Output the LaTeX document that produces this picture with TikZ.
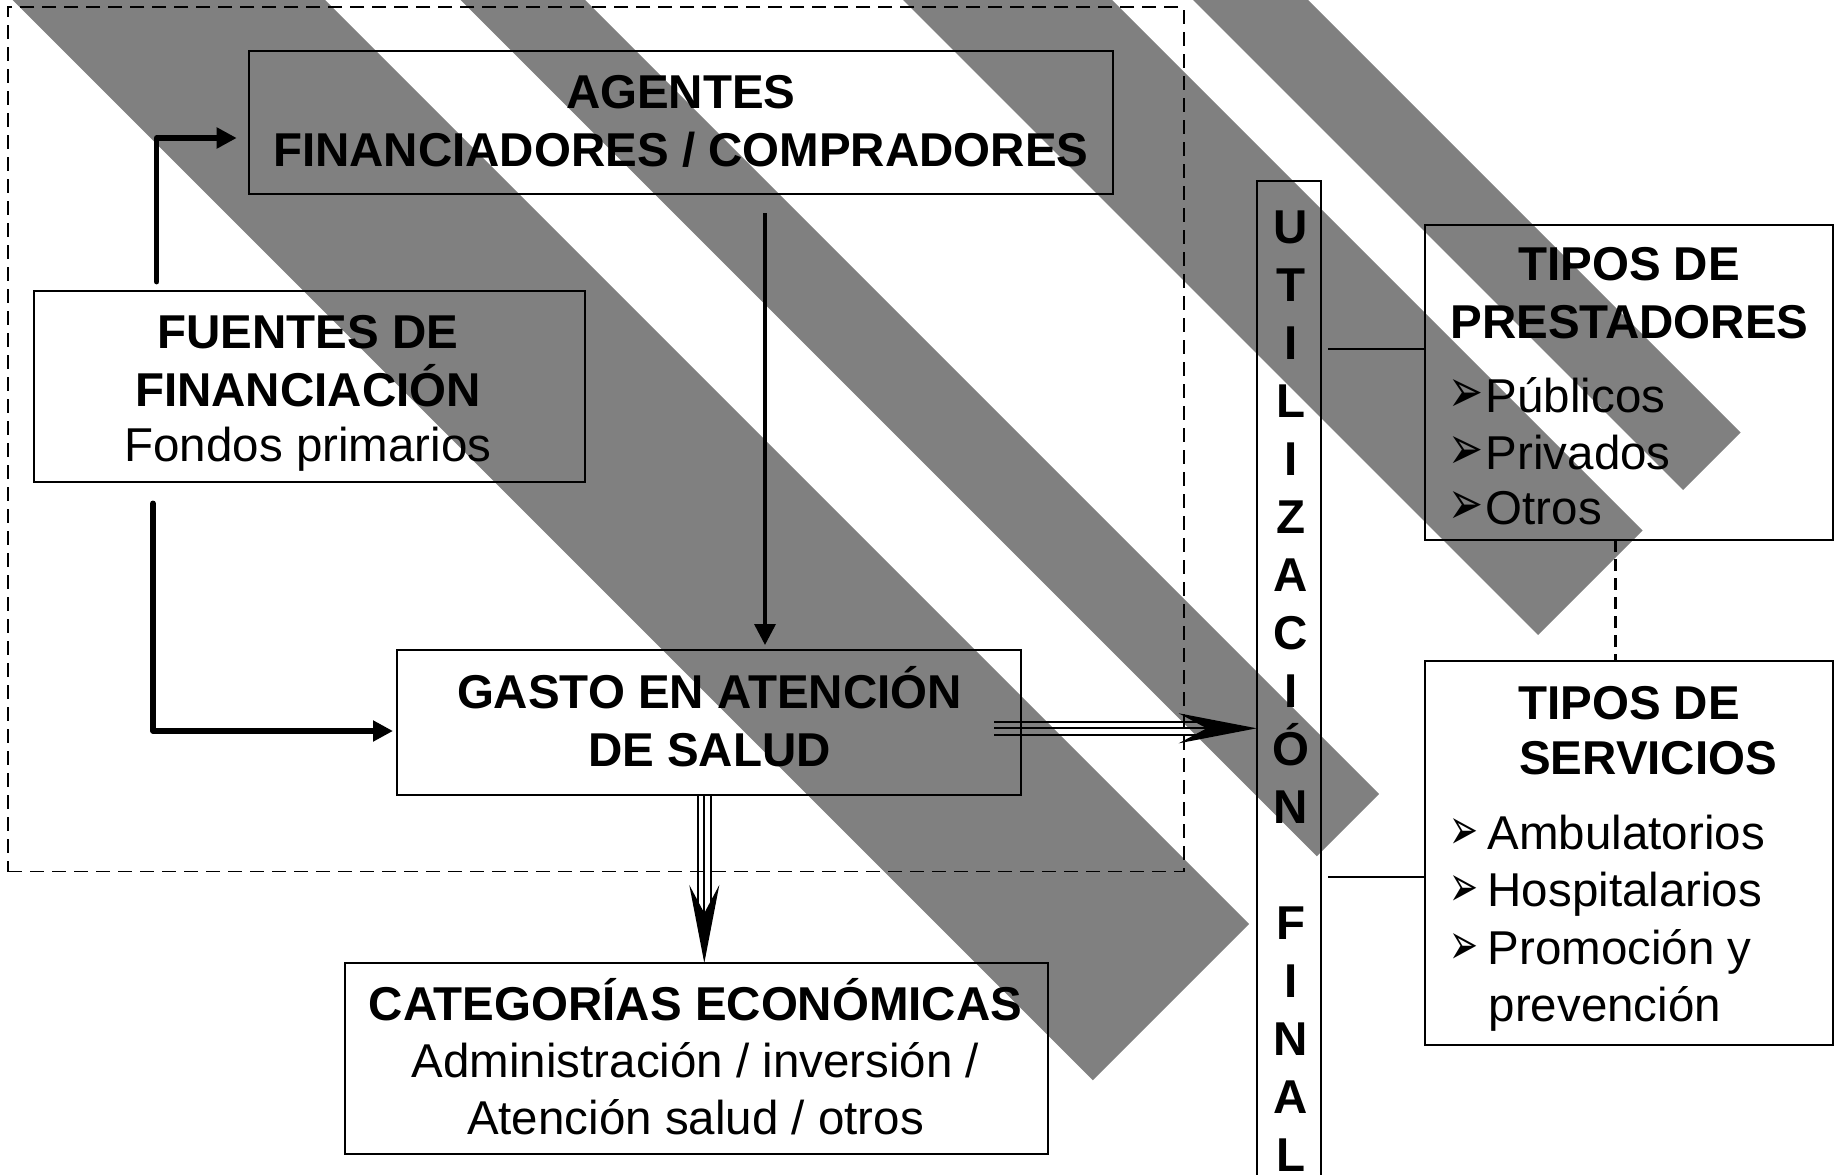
\documentclass[tikz,border=0pt]{standalone}
\usepackage{fontspec}
\setmainfont{Liberation Sans}
\newfontfamily\dvfont{DejaVu Sans}
\usetikzlibrary{arrows.meta}
\definecolor{stripegray}{HTML}{808080}
\newcommand\bulA{\makebox[37.1pt][l]{\resizebox{35pt}{33pt}{\dvfont ➢}}}
\newcommand\bulB{\makebox[38pt][l]{\resizebox{29pt}{31pt}{\dvfont ➢}}}
\begin{document}
\begin{tikzpicture}[x=1pt,y=-1pt,
  box/.style={draw, line width=2pt, rectangle, inner sep=0pt, outer sep=0pt},
  frame/.style={draw, line width=1.8pt, dash pattern=on 14pt off 8pt, rectangle, inner sep=0pt, outer sep=0pt},
  hd/.style={font=\fontsize{47.5pt}{58pt}\selectfont\bfseries, inner sep=0pt, anchor=base},
  tx/.style={font=\fontsize{47.5pt}{58pt}\selectfont, inner sep=0pt, anchor=base},
  li/.style={tx, anchor=base west},
  thickarrow/.style={line width=5.5pt, line cap=round, line join=round, -{Triangle[length=20pt,width=20pt]}},
  thinarrow/.style={line width=3.5pt, -{Triangle[length=21pt,width=21pt]}},
  rail/.style={line width=2pt},
  railtip/.style={line width=2pt, -{Stealth[length=78pt,width=30pt,inset=28pt]}},
  link/.style={line width=2pt},
  dashlink/.style={line width=2.4pt, dash pattern=on 12pt off 7pt}
]
\useasboundingbox (0,0) rectangle (1839,1175);
\clip (0,0) rectangle (1839,1175);
\fill[white] (0,0) rectangle (1839,1175);
% diagonal stripes
\fill[stripegray] (-37.5,-50) -- (275,-50) -- (1249,924) -- (1092.75,1080.25) -- cycle;
\fill[stripegray] (410.5,-50) -- (535,-50) -- (1379,794) -- (1316.75,856.25) -- cycle;
\fill[stripegray] (853,-50) -- (1062,-50) -- (1642.5,530.5) -- (1538,635) -- cycle;
\fill[stripegray] (1143,-50) -- (1258,-50) -- (1740.5,432.5) -- (1683,490) -- cycle;
% dashed frame
\node[frame, minimum width=1176pt, minimum height=864.2pt] (frame) at (596,439.4) {};
% boxes
\node[box, minimum width=864.4pt, minimum height=143.6pt] (agentes) at (680.8,122.5) {};
\node[box, minimum width=551.3pt, minimum height=191.3pt] (fuentes) at (309.15,386.65) {};
\node[box, minimum width=623.7pt, minimum height=144.5pt] (gasto) at (708.85,722.45) {};
\node[box, minimum width=703pt, minimum height=191.3pt] (cat) at (696.5,1058.65) {};
\node[box, minimum width=63.8pt, minimum height=1019.3pt] (util) at (1288.6,690.35) {};
\node[box, minimum width=408.1pt, minimum height=315.8pt] (prest) at (1628.85,382.5) {};
\node[box, minimum width=407.9pt, minimum height=383.8pt] (serv) at (1628.95,852.9) {};
% texts
\node[hd] (ag1) at (680.8,108.3) {AGENTES};
\node[hd] (ag2) at (680.8,166.7) {FINANCIADORES / COMPRADORES};
\node[hd] (fu1) at (308,348.3) {FUENTES DE};
\node[hd] (fu2) at (308,406.7) {FINANCIACIÓN};
\node[tx] (fu3) at (308,461.7) {Fondos primarios};
\node[hd] (ga1) at (709.5,708.2) {GASTO EN ATENCIÓN};
\node[hd] (ga2) at (709.5,766.8) {DE SALUD};
\node[hd] (ca1) at (695.5,1020.5) {CATEGORÍAS ECONÓMICAS};
\node[tx] (ca2) at (695.5,1077) {Administración / inversión /};
\node[tx] (ca3) at (695.5,1134.3) {Atención salud / otros};
\foreach \k/\ch in {0/U,1/T,2/I,3/L,4/I,5/Z,6/A,7/C,8/I,9/Ó,10/N,12/F,13/I,14/N,15/A,16/L}
  \node[hd] (u\k) at (1291,243.3+58*\k) {\ch};
\node[hd] (pr1) at (1629,280.1) {TIPOS DE};
\node[hd] (pr2) at (1629.5,338.3) {PRESTADORES};
\node[li] (pr3) at (1448.5,412.2) {\bulA Públicos};
\node[li] (pr4) at (1448.5,469.6) {\bulA Privados};
\node[li] (pr5) at (1448.5,524.3) {\bulA Otros};
\node[hd] (se1) at (1629,719.2) {TIPOS DE};
\node[hd, anchor=base west] (se2) at (1519,774.2) {SERVICIOS};
\node[li] (se3) at (1449.4,849.4) {\bulB Ambulatorios};
\node[li] (se4) at (1449.4,906.2) {\bulB Hospitalarios};
\node[li] (se5) at (1449.4,964.9) {\bulB Promoción y};
\node[li] (se6) at (1488.5,1021.7) {prevención};
% connectors
\coordinate (fa0) at (156.7,281.7);
\coordinate (fa1) at (236.7,138);
\draw[thickarrow] (fa0) |- (fa1);
\coordinate (fg0) at (153,503.3);
\coordinate (fg1) at (393,731);
\draw[thickarrow] (fg0) |- (fg1);
\coordinate (ag0) at (765,213.3);
\draw[thinarrow] (ag0) -- (765,645);
\coordinate (gu) at (994,728.3);
\draw[rail] (994,721.7) -- (1200,721.7);
\draw[rail] (994,734.9) -- (1200,734.9);
\draw[railtip] (gu) -- (util.west |- gu);
\coordinate (gc) at (704.3,794.7);
\draw[rail] (698,794.7) -- (698,906);
\draw[rail] (710.6,794.7) -- (710.6,906);
\draw[railtip] (gasto.south -| gc) -- (cat.north -| gc);
\coordinate (up) at (1328.2,349);
\draw[link] (up) -- (prest.west |- up);
\coordinate (us) at (1328.4,876.9);
\draw[link] (us) -- (serv.west |- us);
\coordinate (ps) at (1615.6,540.4);
\draw[dashlink] (prest.south -| ps) -- (serv.north -| ps);
\end{tikzpicture}
\end{document}
